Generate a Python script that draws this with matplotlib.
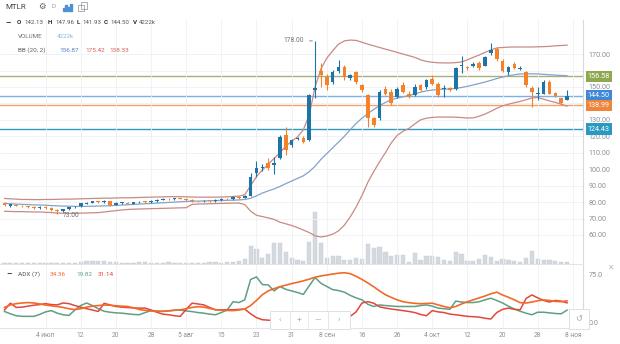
import numpy as np
import matplotlib
matplotlib.use('Agg')
import matplotlib.pyplot as plt
from matplotlib.patches import Rectangle
from matplotlib.transforms import blended_transform_factory

plt.rcParams['font.family'] = ['Roboto', 'DejaVu Sans']

W, H = 620, 344

# MTLR daily candles, 24 Jun - 8 Nov
opens = [79.6, 77.8, 78.4, 77.9, 77.4, 77.0, 76.4, 77.2, 76.6, 75.2,
         74.4, 75.6, 76.8, 77.4, 79.0, 79.6, 80.4, 80.0, 80.6, 78.4,
         79.4, 79.6, 79.0, 79.8, 80.4, 80.0, 80.6, 81.4, 81.9, 81.6,
         82.3, 82.0, 81.4, 80.6, 80.4, 80.9, 80.6, 81.2, 81.9, 81.8,
         83.2, 82.5, 84.0, 97.7, 100.8, 104.0, 102.5, 107.0, 120.8, 114.7,
         118.6, 119.0, 117.7, 148.0, 160.0, 156.0, 153.0, 160.0, 162.0, 155.5,
         159.0, 151.0, 145.0, 131.0, 131.0, 149.0, 147.0, 144.0, 151.0, 146.0,
         145.0, 151.0, 150.0, 155.0, 152.0, 148.5, 149.5, 149.0, 162.5, 162.0,
         163.0, 164.5, 163.0, 170.5, 173.0, 166.0, 159.0, 164.0, 161.0, 159.0,
         149.5, 146.0, 146.0, 153.0, 146.3, 143.0, 142.13]
highs = [80.3, 79.1, 78.9, 78.3, 77.9, 77.5, 77.8, 77.6, 76.9, 75.6,
         76.1, 77.3, 77.6, 79.7, 80.2, 80.9, 80.7, 81.1, 80.9, 79.8,
         80.0, 79.9, 80.2, 80.6, 80.7, 81.0, 81.8, 82.2, 82.3, 82.6,
         82.7, 82.3, 81.8, 80.9, 81.2, 81.3, 81.6, 82.2, 82.3, 83.5,
         83.6, 84.2, 97.7, 105.0, 103.0, 107.0, 107.2, 121.0, 125.6, 118.5,
         119.8, 120.0, 146.0, 178.0, 164.6, 158.0, 160.5, 166.4, 163.5, 158.0,
         160.0, 152.0, 146.0, 132.0, 148.0, 150.5, 149.0, 150.0, 153.0, 147.5,
         152.0, 152.0, 155.0, 157.0, 153.0, 151.0, 150.0, 162.0, 169.0, 163.0,
         165.0, 165.5, 169.0, 176.7, 174.0, 167.0, 163.0, 165.0, 162.5, 160.0,
         150.5, 150.0, 154.0, 154.0, 147.0, 143.5, 147.96]
lows = [77.5, 77.3, 77.5, 77.0, 76.6, 76.1, 75.9, 75.8, 74.6, 73.0,
        74.0, 75.3, 76.4, 77.0, 78.6, 79.2, 79.6, 79.7, 77.8, 78.0,
        79.0, 78.7, 78.6, 79.4, 79.4, 79.6, 80.3, 81.0, 81.1, 81.2,
        81.6, 80.8, 80.1, 79.9, 80.0, 80.2, 80.2, 80.9, 81.2, 81.4,
        82.0, 82.2, 83.5, 95.5, 99.0, 99.5, 96.8, 106.0, 108.6, 113.5,
        117.5, 116.0, 117.0, 143.0, 150.0, 148.0, 152.0, 158.5, 154.0, 154.0,
        152.0, 147.0, 125.6, 125.7, 130.0, 145.0, 139.0, 143.0, 146.5, 143.5,
        144.5, 147.5, 149.0, 151.0, 144.0, 144.0, 147.5, 148.0, 158.5, 160.5,
        162.0, 160.5, 162.5, 169.5, 166.0, 159.0, 157.5, 161.0, 160.5, 150.0,
        137.8, 142.0, 145.5, 145.5, 144.0, 139.6, 141.93]
closes = [78.0, 78.6, 77.9, 77.4, 77.0, 76.6, 77.2, 76.2, 75.0, 74.4,
          75.6, 76.8, 77.2, 79.2, 79.6, 80.4, 80.0, 80.6, 78.2, 79.4,
          79.6, 79.0, 79.8, 80.2, 79.8, 80.6, 81.4, 81.8, 81.6, 82.2,
          82.0, 81.2, 80.6, 80.4, 80.8, 80.6, 81.2, 81.8, 81.6, 83.0,
          82.4, 83.6, 95.0, 100.7, 101.2, 101.0, 104.0, 119.6, 111.7, 117.7,
          119.2, 116.5, 145.0, 149.5, 157.0, 151.0, 159.0, 162.0, 156.0, 157.0,
          153.0, 148.0, 131.0, 127.0, 147.0, 146.0, 140.0, 149.0, 147.0, 144.0,
          150.0, 148.0, 154.0, 152.0, 145.0, 149.5, 148.0, 161.5, 163.5, 161.5,
          164.0, 161.5, 168.0, 172.5, 167.0, 160.0, 162.0, 161.5, 161.2, 151.0,
          147.0, 146.5, 153.0, 146.0, 144.5, 140.0, 144.50]
volume_k = [1800, 1500, 1700, 1400, 1600, 1500, 1900, 1700, 2100, 2600,
            2000, 1800, 2300, 4800, 6200, 5400, 5000, 5600, 4200, 3600,
            2800, 2400, 2000, 3400, 3000, 2600, 2200, 1800, 3900, 2600,
            2000, 1900, 1700, 2300, 2000, 3100, 3600, 2500, 3400, 4400,
            6000, 9000, 36000, 30000, 12000, 20000, 42000, 42000, 24000, 12000,
            8000, 6000, 44000, 104000, 42000, 12000, 16000, 16000, 8000, 8000,
            12000, 10000, 40000, 32000, 34000, 24000, 16000, 18000, 18000, 4000,
            22000, 8000, 16000, 16000, 14000, 8000, 6000, 24000, 20000, 6000,
            6000, 10000, 18000, 14000, 6000, 10000, 8000, 6000, 4000, 12000,
            26000, 10000, 8000, 8000, 6000, 4500, 4222]

# Bollinger (20, 2)
bb_upper = [82.2, 82.0, 81.8, 81.6, 81.6, 81.5, 81.5, 81.6, 81.6, 81.7,
            81.8, 81.8, 81.9, 82.0, 82.1, 82.2, 82.3, 82.4, 82.4, 82.5,
            82.6, 82.6, 82.7, 82.8, 82.9, 83.0, 83.1, 83.2, 83.3, 83.3,
            83.3, 83.2, 83.1, 83.0, 83.0, 83.0, 83.0, 83.1, 83.2, 83.4,
            83.6, 84.5, 90.0, 95.5, 99.5, 103.0, 106.5, 110.0, 114.0, 117.0,
            119.6, 124.0, 133.0, 150.0, 161.0, 167.5, 172.0, 176.0, 178.0, 178.5,
            178.3, 177.2, 176.0, 175.0, 174.0, 173.0, 172.0, 171.0, 170.0, 169.0,
            168.0, 166.5, 165.5, 165.0, 164.7, 164.6, 164.6, 164.8, 165.2, 166.5,
            168.0, 169.4, 171.0, 172.5, 173.7, 174.0, 174.2, 174.3, 174.3, 174.3,
            174.3, 174.4, 174.5, 174.7, 175.0, 175.2, 175.42]
bb_mid = [79.2, 79.0, 78.8, 78.6, 78.5, 78.3, 78.2, 78.1, 77.9, 77.7,
          77.6, 77.5, 77.4, 77.4, 77.4, 77.5, 77.6, 77.7, 77.8, 78.0,
          78.2, 78.4, 78.6, 78.8, 79.0, 79.2, 79.4, 79.6, 79.8, 80.0,
          80.2, 80.4, 80.5, 80.6, 80.7, 80.8, 80.9, 81.0, 81.1, 81.2,
          81.3, 81.6, 82.3, 83.8, 85.5, 86.8, 88.0, 89.5, 91.2, 92.8,
          94.4, 96.0, 98.5, 101.8, 106.0, 109.5, 113.0, 116.5, 120.0, 124.0,
          127.8, 131.0, 133.8, 136.3, 138.6, 140.6, 142.2, 143.2, 144.0, 144.8,
          145.8, 146.8, 147.6, 148.1, 148.5, 148.7, 148.7, 149.1, 149.7, 150.4,
          151.2, 152.1, 153.0, 154.0, 155.1, 156.0, 156.8, 157.4, 157.9, 158.0,
          158.0, 157.9, 157.7, 157.4, 157.2, 157.0, 156.87]
bb_lower = [74.4, 74.3, 74.2, 74.2, 74.1, 74.0, 74.0, 73.8, 73.6, 73.4,
            73.2, 73.2, 73.2, 73.3, 73.4, 73.5, 73.6, 74.0, 74.4, 74.8,
            75.2, 75.5, 75.7, 75.8, 75.9, 76.0, 76.1, 76.2, 76.3, 76.4,
            76.5, 76.6, 78.6, 78.8, 78.9, 79.0, 79.1, 79.2, 79.3, 79.4,
            79.4, 78.5, 74.5, 72.0, 71.2, 70.4, 69.5, 67.8, 66.8, 65.8,
            64.5, 63.0, 61.5, 59.5, 58.8, 59.4, 60.5, 62.5, 66.0, 71.0,
            77.0, 84.0, 92.0, 98.5, 104.5, 110.0, 116.0, 120.5, 123.0, 124.8,
            127.5, 130.0, 131.0, 131.5, 131.7, 131.7, 131.7, 131.6, 131.4, 131.1,
            131.2, 132.2, 133.5, 135.2, 137.0, 138.5, 139.5, 140.4, 141.2, 142.2,
            143.3, 143.6, 142.6, 141.5, 140.6, 139.5, 138.33]

# ADX (7)
adx = [24.0, 28.0, 30.0, 31.0, 31.7, 31.0, 29.5, 27.8, 26.5, 25.5,
       24.0, 22.0, 20.6, 22.0, 24.5, 26.0, 27.0, 27.8, 27.5, 26.6,
       26.0, 25.5, 23.5, 20.8, 19.5, 18.4, 17.7, 18.0, 18.8, 19.6,
       20.2, 22.0, 24.0, 25.2, 24.5, 22.5, 20.4, 19.8, 19.3, 19.0,
       20.0, 21.5, 27.0, 35.0, 44.0, 50.0, 53.5, 56.7, 59.0, 61.5,
       63.5, 65.8, 68.5, 71.5, 73.5, 75.0, 76.5, 77.8, 78.6, 77.0,
       73.0, 68.0, 62.5, 56.5, 50.0, 44.0, 39.8, 36.0, 33.0, 31.5,
       30.5, 29.8, 30.3, 30.7, 28.0, 25.5, 23.5, 25.5, 29.5, 33.0,
       36.0, 39.0, 42.0, 45.5, 48.0, 43.5, 40.0, 36.0, 31.5, 31.0,
       32.5, 34.5, 35.8, 35.0, 33.5, 33.0, 34.36]
di_plus = [17.7, 14.0, 11.0, 10.0, 10.0, 10.0, 13.0, 17.0, 19.0, 15.0,
           12.5, 11.5, 20.0, 27.0, 31.0, 27.0, 22.0, 18.0, 16.5, 15.5,
           15.0, 14.0, 13.0, 12.5, 16.0, 19.0, 18.5, 17.7, 18.5, 19.5,
           20.0, 18.5, 17.5, 16.0, 15.0, 13.5, 12.5, 16.0, 20.0, 33.0,
           31.7, 36.0, 68.0, 72.0, 60.0, 59.4, 50.0, 56.8, 52.5, 50.0,
           47.5, 44.5, 58.0, 71.0, 62.0, 57.0, 52.0, 50.5, 48.0, 43.0,
           39.0, 36.0, 29.0, 25.5, 28.0, 27.0, 26.2, 25.5, 25.5, 25.5,
           25.5, 27.0, 28.0, 26.0, 23.0, 22.0, 21.0, 34.0, 32.5, 31.7,
           31.7, 33.0, 36.0, 38.5, 35.0, 31.0, 26.0, 21.5, 18.0, 15.0,
           12.5, 16.5, 16.5, 15.5, 14.5, 14.0, 19.82]
di_minus = [20.0, 30.7, 24.0, 24.5, 26.0, 27.5, 28.5, 30.0, 28.5, 28.0,
            31.0, 30.0, 27.0, 24.5, 22.0, 20.0, 17.7, 30.5, 28.0, 25.5,
            24.5, 23.8, 23.2, 23.0, 23.0, 20.0, 16.5, 13.5, 12.5, 11.0,
            10.0, 21.0, 30.7, 29.5, 28.0, 24.0, 20.3, 20.3, 20.3, 20.3,
            21.0, 21.4, 14.0, 8.0, 4.7, 4.0, 3.6, 3.4, 4.5, 4.2,
            3.9, 4.1, 3.2, 2.4, 3.0, 3.6, 4.2, 5.5, 7.0, 10.0,
            17.0, 31.0, 33.0, 30.7, 25.0, 23.0, 21.5, 20.3, 19.0, 17.7,
            16.0, 13.0, 11.0, 19.0, 17.0, 16.0, 13.5, 12.5, 11.2, 10.0,
            9.5, 8.8, 7.0, 5.8, 16.0, 21.0, 23.0, 21.0, 20.3, 38.0,
            43.7, 39.0, 35.0, 32.5, 35.0, 34.0, 31.14]

tick_bars = list(range(7, 98, 6))
tick_labels = ['4 июл', '12', '20', '28', '5 авг', '15', '23', '31', '8 сен',
               '16', '26', '4 окт', '12', '20', '28', '8 ноя']
price_ticks = [60, 70, 80, 90, 100, 110, 120, 130, 140, 150, 160, 170]
levels = [156.58, 144.50, 138.99, 124.43]
level_line_colors = ['#a7b07a', '#7db0e6', '#f2a06e', '#3399bd']
level_box_colors = ['#8fa84f', '#3f88d8', '#f0843a', '#2a9ac0']

UP = '#1c75a6'
DOWN = '#f4822a'
GRID = '#eef0f2'
TXT = '#8a9098'


def fx(px):
    return px / W


def fy(py):
    return 1 - py / H


idx = np.arange(len(closes))
o = np.array(opens)
c = np.array(closes)
colors = [UP if ci >= oi else DOWN for oi, ci in zip(o, c)]
xmin, xmax = -0.77, 98.72

fig = plt.figure(figsize=(W / 100, H / 100), dpi=100)

# volume underneath the price panel
vax = fig.add_axes([0, fy(264), fx(583), (264 - 20) / H])
vax.bar(idx, volume_k, width=0.72, color='#d4d9df', edgecolor='#c6ccd3', linewidth=0.3)
vax.set_xlim(xmin, xmax)
vax.set_ylim(0, max(volume_k) * 4.65)
vax.axis('off')

ax = fig.add_axes([0, fy(264), fx(583), (264 - 20) / H])
ax.patch.set_visible(False)
ax.set_xlim(xmin, xmax)
ax.set_ylim(42.37, 190.7)
ax.set_yticks(price_ticks)
# the 160 label sits under the 156.58 level tag, so it is left blank
ax.set_yticklabels(['' if p == 160 else f'{p:.2f}' for p in price_ticks])
ax.yaxis.tick_right()
ax.tick_params(axis='y', length=0, pad=4, labelsize=5.2, labelcolor=TXT)
ax.set_xticks(tick_bars)
ax.tick_params(axis='x', length=0, labelbottom=False)
ax.grid(True, color=GRID, lw=0.6, zorder=0)
for s in ['top', 'left']:
    ax.spines[s].set_visible(False)
ax.spines['right'].set_color('#d6d9dd')
ax.spines['bottom'].set_color('#e2e5e8')
ax.spines['right'].set_linewidth(0.8)
ax.spines['bottom'].set_linewidth(0.8)

# Bollinger bands
ax.plot(idx, bb_upper, color='#c98a84', lw=0.9, zorder=2)
ax.plot(idx, bb_lower, color='#c98a84', lw=0.9, zorder=2)
ax.plot(idx, bb_mid, color='#86a2c6', lw=0.9, zorder=2)

# price levels
for lv, lc in zip(levels, level_line_colors):
    ax.axhline(lv, color=lc, lw=1.0, zorder=1.5)

# candles
ax.vlines(idx, lows, highs, colors=colors, lw=0.8, zorder=3)
body_lo = np.minimum(o, c)
body_h = np.maximum(np.abs(c - o), 0.5)
ax.bar(idx, body_h, bottom=body_lo, width=0.62, color=colors, zorder=4)

# high / low markers
i_hi = int(np.argmax(highs))
i_lo = int(np.argmin(lows))
ax.annotate(f'{highs[i_hi]:.2f}', xy=(i_hi, highs[i_hi]), xytext=(-8, 0),
            textcoords='offset points', ha='right', va='center', fontsize=4.8,
            color='#6b7178', arrowprops=dict(arrowstyle='-', color='#6b7178', lw=0.6))
ax.annotate(f'{lows[i_lo]:.2f}', xy=(i_lo, lows[i_lo]), xytext=(4, -1),
            textcoords='offset points', ha='left', va='center', fontsize=4.8,
            color='#6b7178', arrowprops=dict(arrowstyle='-', color='#6b7178', lw=0.6))

# level boxes on the price scale
tr = blended_transform_factory(ax.transAxes, ax.transData)
for lv, bc in zip(levels, level_box_colors):
    ax.text(1.008, lv, f'{lv:.2f}', transform=tr, ha='left', va='center',
            fontsize=5.2, color='white', clip_on=False, zorder=10,
            bbox=dict(boxstyle='square,pad=0.28', fc=bc, ec='none'))

# ADX panel
bax = fig.add_axes([0, fy(328), fx(583), (328 - 265) / H])
bax.set_xlim(xmin, xmax)
bax.set_ylim(-8.3, 90.7)
bax.plot(idx, di_plus, color='#5f9f83', lw=1.1)
bax.plot(idx, di_minus, color='#e2473c', lw=1.1)
bax.plot(idx, adx, color='#f26a2b', lw=1.2)
bax.set_xticks(tick_bars)
bax.set_xticklabels(tick_labels)
bax.tick_params(axis='x', length=0, pad=3, labelsize=4.8, labelcolor=TXT)
bax.set_yticks([0, 75])
bax.set_yticklabels(['0.0', '75.0'])
bax.yaxis.tick_right()
bax.tick_params(axis='y', length=0, pad=4, labelsize=5.2, labelcolor=TXT)
bax.grid(True, axis='x', color=GRID, lw=0.6)
for s in ['top', 'left']:
    bax.spines[s].set_visible(False)
bax.spines['right'].set_color('#d6d9dd')
bax.spines['bottom'].set_color('#e2e5e8')
bax.spines['right'].set_linewidth(0.8)
bax.spines['bottom'].set_linewidth(0.8)


def put(x, y, s, color='#5d636a', size=4.8, weight='normal', **kw):
    fig.text(fx(x), fy(y), s, color=color, fontsize=size, fontweight=weight,
             ha='left', va='center', **kw)


# header
put(5, 7, 'MTLR', color='#40464d', size=5.8)
put(38, 7, '⚙', color='#555b62', size=6)
put(51, 7, 'D', color='#9aa0a6', size=4.6)
for k, hgt in enumerate([3, 6, 4, 7]):
    fig.add_artist(Rectangle((fx(63 + 2.4 * k), fy(11)), fx(1.8), hgt / H,
                             color='#4f8fd6', transform=fig.transFigure))
fig.add_artist(Rectangle((fx(78), fy(11)), fx(6), 6 / H, fill=False,
                         ec='#8a9098', lw=0.5, transform=fig.transFigure))
fig.add_artist(Rectangle((fx(80.5), fy(8.5)), fx(6), 6 / H, fill=False,
                         ec='#8a9098', lw=0.5, transform=fig.transFigure))

put(5, 23, '–', color='#222', size=6, weight='bold')
ohlc = [('O', 17, opens[-1], 24), ('H', 48, highs[-1], 55),
        ('L', 77, lows[-1], 82), ('C', 104, closes[-1], 110)]
for lab, xl, val, xv in ohlc:
    put(xl, 23, lab, color='#2b2f33', size=4.5, weight='bold')
    put(xv, 23, f'{val:.2f}', color='#50565c', size=4.4)
put(133, 23, 'V', color='#2b2f33', size=4.5, weight='bold')
put(139, 23, f'{volume_k[-1]}k', color='#50565c', size=4.4)

put(18, 36, 'VOLUME', color='#6a7077', size=4.5)
put(57, 36, f'{volume_k[-1]}k', color='#8fb3df', size=4.5)

put(18, 50, 'BB (20, 2)', color='#5d636a', size=4.6)
put(59, 50, f'{bb_mid[-1]:.2f}', color='#4f84c4', size=4.6)
put(85, 50, f'{bb_upper[-1]:.2f}', color='#d4605a', size=4.6)
put(109, 50, f'{bb_lower[-1]:.2f}', color='#d4605a', size=4.6)

put(6, 274, '–', color='#222', size=6, weight='bold')
put(18, 274, 'ADX (7)', color='#50565c', size=4.6)
put(50, 274, f'{adx[-1]:.2f}', color='#f26a2b', size=4.6)
put(76, 274, f'{di_plus[-1]:.2f}', color='#5f9f83', size=4.6)
put(98, 274, f'{di_minus[-1]:.2f}', color='#e2473c', size=4.6)

# chart navigation overlay
fig.add_artist(Rectangle((fx(270), fy(329)), fx(80), 18 / H, fc='white',
                         ec='#d8dbdf', lw=0.6, transform=fig.transFigure, zorder=20))
for xd in [290, 308, 328]:
    fig.add_artist(plt.Line2D([fx(xd), fx(xd)], [fy(329), fy(311)],
                              color='#e1e4e7', lw=0.6, transform=fig.transFigure, zorder=21))
for xs, s in [(280, '‹'), (299, '+'), (318, '—'), (339, '›')]:
    fig.text(fx(xs), fy(320), s, color='#a3a8ae', fontsize=6, ha='center',
             va='center', zorder=22)
fig.add_artist(Rectangle((fx(569), fy(329)), fx(20), 20 / H, fc='white',
                         ec='#d8dbdf', lw=0.6, transform=fig.transFigure, zorder=20))
fig.text(fx(579), fy(319), '↺', color='#a3a8ae', fontsize=6, ha='center',
         va='center', zorder=22)
fig.text(fx(610), fy(268), '✕', color='#b5b9be', fontsize=5.5, ha='center',
         va='center')

fig.savefig('out.png', dpi=100)
